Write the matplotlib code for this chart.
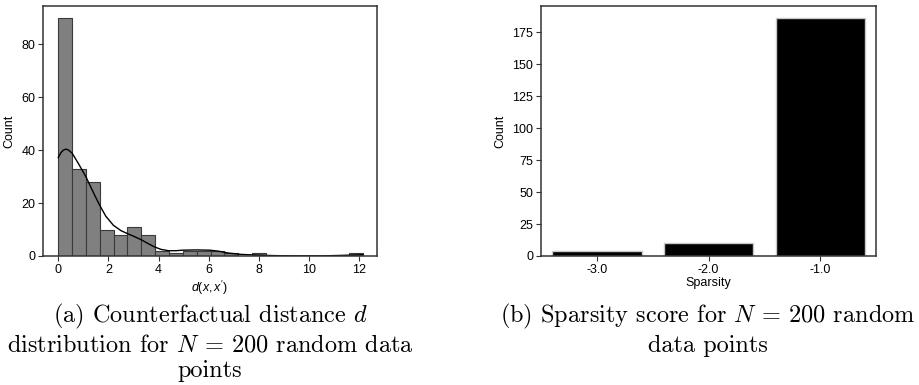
import numpy as np
import matplotlib
matplotlib.use("Agg")
from matplotlib import pyplot as plt

# histogram of counterfactual distances (bin edges from 0, width ~0.552)
bin_width = 12.15 / 22
dist_counts = [90, 33, 28, 10, 8, 11, 8, 2, 1, 2, 2, 2, 1, 0, 1, 0, 0, 0, 0, 0, 0, 1]

# kde curve
kde_x = [0.0, 0.1, 0.2, 0.3, 0.4, 0.55, 0.8, 1.1, 1.4, 1.65, 1.9, 2.2, 2.5, 2.75, 3.0,
         3.3, 3.6, 3.85, 4.1, 4.4, 4.7, 4.95, 5.5, 6.05, 6.4, 6.8, 7.3, 7.8, 8.4, 8.9,
         9.6, 10.5, 11.2, 11.7, 12.15]
kde_y = [37.2, 39.0, 40.0, 40.4, 40.1, 38.9, 35.0, 30.0, 24.0, 19.2, 15.0, 11.6, 9.6, 8.5, 7.5,
         6.2, 4.6, 3.4, 2.5, 2.0, 2.0, 2.2, 2.3, 2.2, 1.8, 1.1, 0.6, 0.4, 0.2, 0.1,
         0.05, 0.05, 0.2, 0.35, 0.5]

sparsity_labels = ["-3.0", "-2.0", "-1.0"]
sparsity_counts = [4, 10, 186]

plt.rcParams["font.family"] = ["Liberation Sans", "DejaVu Sans"]
plt.rcParams["mathtext.fontset"] = "custom"
plt.rcParams["mathtext.it"] = "Liberation Sans:italic"
plt.rcParams["mathtext.rm"] = "Liberation Sans"

spine_col = "#333333"
fs = 9

fig = plt.figure(figsize=(9.19, 3.85), dpi=100)
ax1 = fig.add_axes([43 / 919, 1 - 256 / 385, 334 / 919, 250 / 385])
ax2 = fig.add_axes([541 / 919, 1 - 256 / 385, 335 / 919, 250 / 385])

# (a) distance histogram with kde
edges = np.arange(len(dist_counts)) * bin_width
ax1.bar(edges, dist_counts, width=bin_width, align="edge",
        color="#808080", edgecolor="#3a3a3a", linewidth=0.8)
ax1.plot(kde_x, kde_y, color="black", linewidth=1.0)
ax1.set_xlim(-0.61, 12.72)
ax1.set_ylim(0, 94.5)
ax1.set_xticks([0, 2, 4, 6, 8, 10, 12])
ax1.set_yticks([0, 20, 40, 60, 80])
ax1.set_xlabel(r"$d(x, x')$", fontsize=fs, labelpad=2)
ax1.set_ylabel("Count", fontsize=fs, labelpad=4)

# (b) sparsity counts
pos = np.arange(len(sparsity_labels))
ax2.bar(pos, sparsity_counts, width=0.8, color="black", edgecolor="#c8c8c8", linewidth=1.0)
ax2.set_xlim(-0.5, 2.5)
ax2.set_ylim(0, 195.5)
ax2.set_xticks(pos)
ax2.set_xticklabels(sparsity_labels)
ax2.set_yticks([0, 25, 50, 75, 100, 125, 150, 175])
ax2.set_xlabel("Sparsity", fontsize=fs, labelpad=1)
ax2.set_ylabel("Count", fontsize=fs, labelpad=4)

for ax in (ax1, ax2):
    for s in ax.spines.values():
        s.set_color(spine_col)
        s.set_linewidth(1.1)
    ax.tick_params(labelsize=fs, length=3.5, width=0.8, color=spine_col, pad=2)

cap_kw = dict(ha="center", va="top", fontsize=17.5, family="cmr10",
              math_fontfamily="cm", linespacing=1.2)
fig.text(210 / 919, 1 - 302 / 385,
         "(a) Counterfactual distance $d$\ndistribution for $N$ = 200 random data\npoints",
         **cap_kw)
fig.text(708 / 919, 1 - 302 / 385,
         "(b) Sparsity score for $N$ = 200 random\ndata points", **cap_kw)

fig.savefig("out.png", dpi=100)
